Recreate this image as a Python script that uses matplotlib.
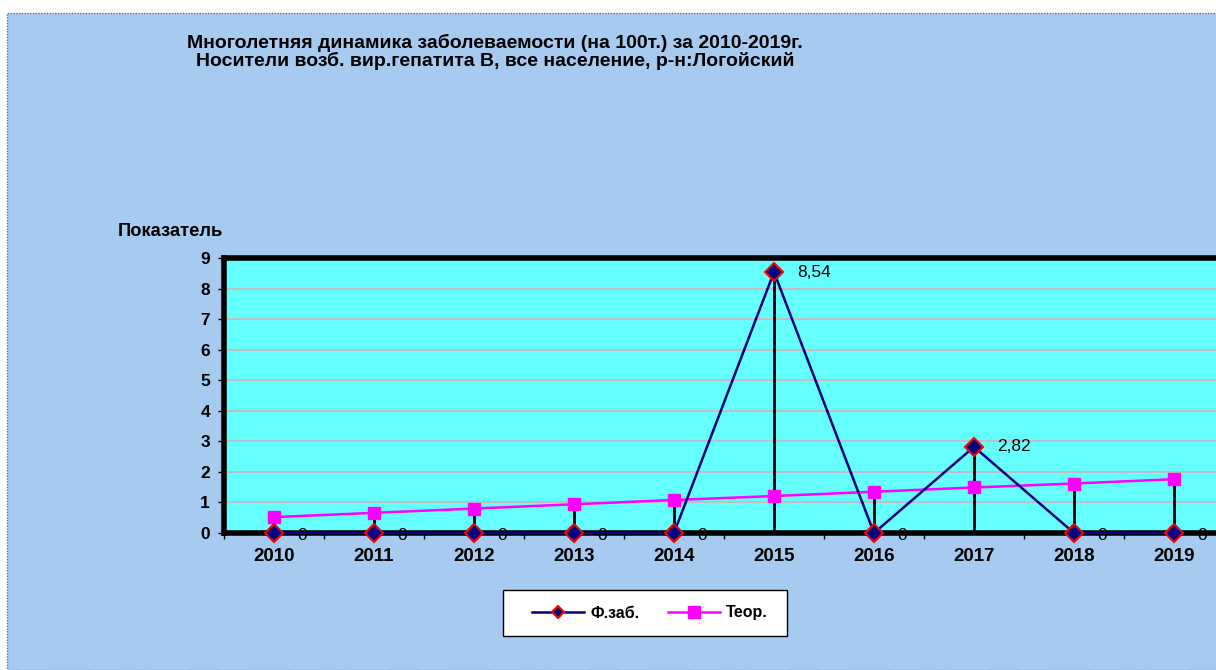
import matplotlib
matplotlib.use("Agg")
import matplotlib.pyplot as plt
from matplotlib.patches import Rectangle
from matplotlib.lines import Line2D

plt.rcParams['font.family'] = ['Liberation Sans', 'DejaVu Sans']

years = ['2010', '2011', '2012', '2013', '2014', '2015', '2016', '2017', '2018', '2019']
fact = [0, 0, 0, 0, 0, 8.54, 0, 2.82, 0, 0]
theor = [0.52, 0.66, 0.80, 0.94, 1.08, 1.21, 1.35, 1.49, 1.62, 1.76]
fact_labels = ['0', '0', '0', '0', '0', '8,54', '0', '2,82', '0', '0']
title = ('Многолетняя динамика заболеваемости (на 100т.) за 2010-2019г.\n'
         'Носители возб. вир.гепатита В, все население, р-н:Логойский')
ylabel = 'Показатель'
legend_names = ['Ф.заб.', 'Теор.']

W, H = 1216, 670
fig = plt.figure(figsize=(W / 100, H / 100), dpi=100)
fig.patch.set_facecolor('white')

# chart area background
bg = Rectangle((7 / W, 0), 1 - 7 / W + 0.01, 1 - 13 / H, transform=fig.transFigure,
               facecolor='#A6CAF0', edgecolor='#707070', linewidth=1.0,
               linestyle=(0, (1, 1)), zorder=-5)
fig.patches.append(bg)

# legend frame
lf = Rectangle((503 / W, 1 - 636 / H), 284 / W, 46 / H, transform=fig.transFigure,
               facecolor='white', edgecolor='black', linewidth=1.0, zorder=3)
fig.patches.append(lf)

left, right = 224 / W, 1224 / W
bottom, top = 1 - 533 / H, 1 - 258 / H
ax = fig.add_axes([left, bottom, right - left, top - bottom])
ax.set_zorder(2)
ax.set_facecolor('#66FFFF')

x = list(range(len(years)))
ax.set_xlim(-0.5, len(years) - 0.5)
ax.set_ylim(0, 9)

for v in range(1, 9):
    ax.axhline(v, color='#C0C0C0', linewidth=1.5, zorder=1)

# drop lines
for i in x:
    ax.plot([i, i], [0, max(fact[i], theor[i])], color='black', linewidth=2, zorder=2)

ax.plot(x, theor, color='#FF00FF', linewidth=1.8, marker='s', markersize=9,
        markerfacecolor='#FF00FF', markeredgecolor='#FF00FF', zorder=3, clip_on=False)
ax.plot(x, fact, color='#000080', linewidth=1.8, marker='D', markersize=9,
        markerfacecolor='#000080', markeredgecolor='#FF0000', markeredgewidth=1.5,
        zorder=4, clip_on=False)

for i, (v, lab) in enumerate(zip(fact, fact_labels)):
    ax.annotate(lab, (i, v), xytext=(17, -2 if v == 0 else 0), textcoords='offset points',
                fontsize=12.5, va='center', ha='left', color='black', zorder=5,
                annotation_clip=False)

for s in ['left', 'top', 'bottom']:
    ax.spines[s].set_linewidth(4)
    ax.spines[s].set_color('black')
ax.spines['right'].set_visible(False)

ax.set_yticks(range(0, 10))
ax.set_yticklabels([str(v) for v in range(0, 10)], fontsize=12.5, fontweight='bold')
ax.tick_params(axis='y', length=4, width=1, pad=6)

ax.set_xticks([i - 0.5 for i in x] + [len(years) - 0.5])
ax.set_xticklabels([])
ax.set_xticks(x, minor=True)
ax.set_xticklabels(years, minor=True, fontsize=13.5, fontweight='bold')
ax.tick_params(axis='x', which='major', length=4, width=1, direction='out')
ax.tick_params(axis='x', which='minor', length=0, pad=11)

fig.text(495 / W, 1 - 52 / H, title, ha='center', va='center', fontsize=14,
         fontweight='bold', linespacing=1.05)
fig.text(118 / W, 1 - 232 / H, ylabel, ha='left', va='center', fontsize=13.2, fontweight='bold')

handles = [
    Line2D([0], [0], color='#000080', linewidth=1.8, marker='D', markersize=6,
           markerfacecolor='#000080', markeredgecolor='#FF0000', markeredgewidth=1.5),
    Line2D([0], [0], color='#FF00FF', linewidth=1.8, marker='s', markersize=8,
           markerfacecolor='#FF00FF', markeredgecolor='#FF00FF'),
]
leg = fig.legend(handles, legend_names, loc='center', bbox_to_anchor=(650 / W, 1 - 613 / H),
                 ncol=2, frameon=False, prop={'weight': 'bold', 'size': 11.5},
                 handlelength=3.25, columnspacing=1.75, borderpad=0, handletextpad=0.4)
leg.set_zorder(4)

fig.savefig('out.png', dpi=100, facecolor=fig.get_facecolor())
